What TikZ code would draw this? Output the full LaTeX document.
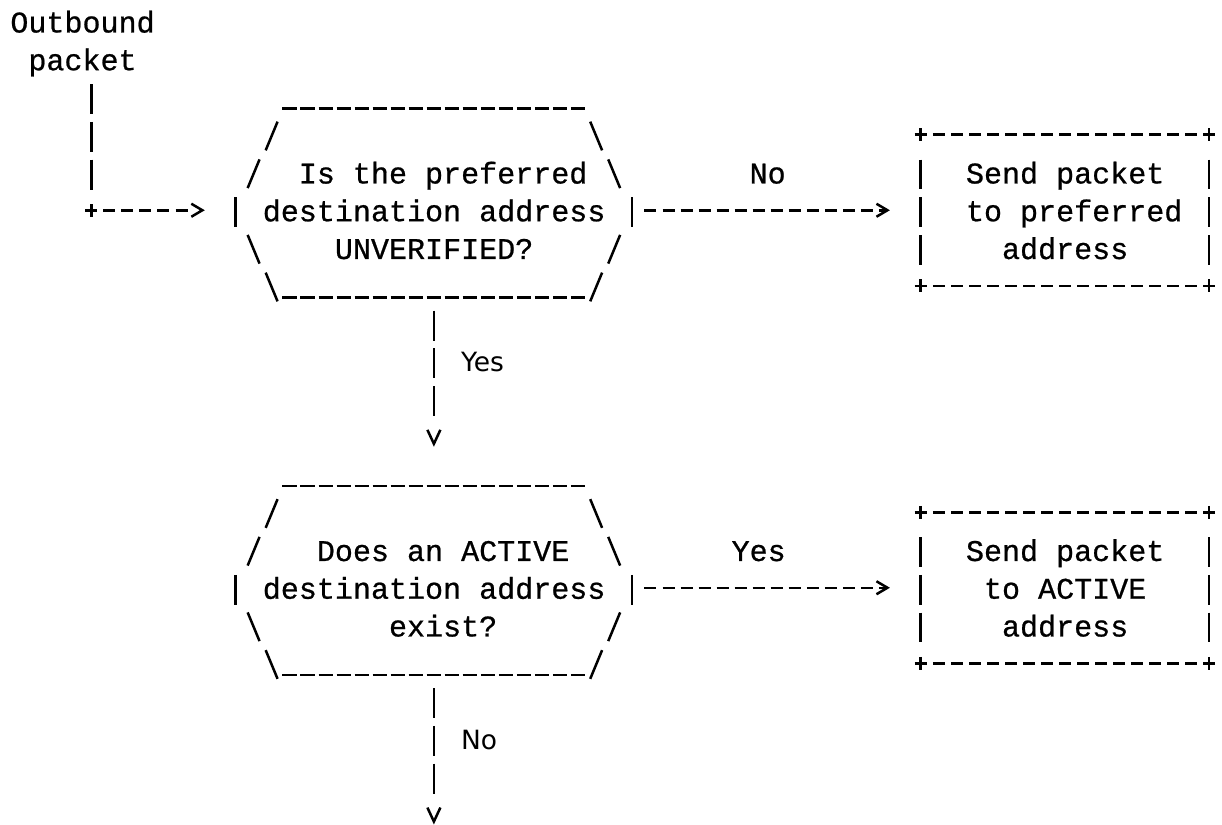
\documentclass[tikz,border=0pt]{standalone}
\usepackage{fontspec}
\newfontfamily\monofnt[FakeBold=0.7]{Liberation Mono}
\newfontfamily\sansfnt{DejaVu Sans}
\usetikzlibrary{arrows.meta}
% glyph-like strokes on the character grid (1 unit x = one column, 1 unit y = one row)
\newcommand\gfs[2]{\draw[glyph] ({#1-0.33},{#2+0.36}) -- ({#1+0.33},{#2-0.40});}
\newcommand\gbs[2]{\draw[glyph] ({#1-0.33},{#2-0.40}) -- ({#1+0.33},{#2+0.36});}
\newcommand\gvb[2]{\draw[glyph] (#1,{#2-0.397}) -- (#1,{#2+0.397});}
\newcommand\hexgl[1]{%
  \foreach \c in {15,...,31} {
    \draw[glyph] ({\c-0.40},{#1+0.252}) -- ({\c+0.40},{#1+0.252});
    \draw[glyph] ({\c-0.40},{#1+5.252}) -- ({\c+0.40},{#1+5.252});
  }
  \gfs{14}{#1+1}\gbs{32}{#1+1}
  \gfs{13}{#1+2}\gbs{33}{#1+2}
  \gvb{12}{#1+3}\gvb{34}{#1+3}
  \gbs{13}{#1+4}\gfs{33}{#1+4}
  \gbs{14}{#1+5}\gfs{32}{#1+5}
}
\newcommand\boxgl[1]{%
  \foreach \c in {51,...,65} {
    \draw[glyph] ({\c-0.32},{#1-0.053}) -- ({\c+0.32},{#1-0.053});
    \draw[glyph] ({\c-0.32},{#1+4-0.053}) -- ({\c+0.32},{#1+4-0.053});
  }
  \foreach \r in {1,2,3} {\gvb{50}{#1+\r}\gvb{66}{#1+\r}}
  \foreach \c in {50,66} {
    \foreach \rr in {0,4} {
      \draw[glyph] ({\c-0.333},{#1+\rr-0.053}) -- ({\c+0.333},{#1+\rr-0.053});
      \draw[glyph] (\c,{#1+\rr-0.053-0.172}) -- (\c,{#1+\rr-0.053+0.172});
    }
  }
}
\begin{document}
\begin{tikzpicture}[x=18.03pt, y=-37.75pt,
  txt/.style={font={\monofnt\fontsize{30.05pt}{37.75pt}\selectfont}, inner sep=0pt, anchor=base west},
  lbl/.style={font={\sansfnt\fontsize{26.5pt}{32pt}\selectfont}, inner sep=0pt, anchor=base west},
  glyph/.style={line width=2.5pt},
  area/.style={draw=none, inner sep=0pt},
  decision/.style={area, minimum width=396.66pt, minimum height=200.53pt},
  actbox/.style={area, minimum width=288.48pt, minimum height=151pt},
  startconn/.style={glyph, dash pattern=on 30pt off 7.75pt on 30pt off 7.75pt on 30pt off 14.75pt on 12pt off 6.05pt on 12pt off 6.03pt on 12pt off 6.03pt on 12pt off 6.03pt on 12pt off 6.03pt on 12pt off 60pt,
    -{Straight Barb[length=11pt,width=13pt]}, shorten >=30.56pt},
  horiz/.style={glyph, dash pattern=on 12pt off 6.03pt,
    -{Straight Barb[length=11pt,width=13pt]}, shorten <=12.05pt, shorten >=30.6pt},
  vert/.style={glyph, dash pattern=on 30pt off 7.75pt on 30pt off 7.75pt on 30pt off 60pt,
    -{Straight Barb[length=14pt,width=13pt]}}
]
\fill[white] (-1.0649,0.37748) rectangle (66.711,22.2053);
\useasboundingbox (-1.0649,0.37748) rectangle (66.711,22.2053);

% shape areas (invisible, used as connector ends)
\node[decision] (d1) at (23,5.947) {};
\node[decision] (d2) at (23,15.947) {};
\node[actbox] (b1) at (58,5.947) {};
\node[actbox] (b2) at (58,15.947) {};
\coordinate (start) at (4,2.603);
\coordinate (corner) at (4,5.947);
\coordinate (end) at (23,22.219);

% outlines
\hexgl{3}
\hexgl{13}
\boxgl{4}
\boxgl{14}

% texts
\node[txt] (tout) at (-0.5,1.238) {Outbound};
\node[txt] (tpkt) at (0.5,2.238) {packet};
\node[txt] (d1a) at (15.5,5.238) {Is the preferred};
\node[txt] (d1b) at (13.5,6.238) {destination address};
\node[txt] (d1c) at (17.5,7.238) {UNVERIFIED?};
\node[txt] (l1) at (40.5,5.238) {No};
\node[txt] (b1a) at (52.5,5.238) {Send packet};
\node[txt] (b1b) at (52.5,6.238) {to preferred};
\node[txt] (b1c) at (54.5,7.238) {address};
\node[lbl] (l2) at (24.5,10.225) {Yes};
\node[txt] (d2a) at (16.5,15.238) {Does an ACTIVE};
\node[txt] (d2b) at (13.5,16.238) {destination address};
\node[txt] (d2c) at (20.5,17.238) {exist?};
\node[txt] (l3) at (39.5,15.238) {Yes};
\node[txt] (b2a) at (52.5,15.238) {Send packet};
\node[txt] (b2b) at (53.5,16.238) {to ACTIVE};
\node[txt] (b2c) at (54.5,17.238) {address};
\node[lbl] (l4) at (24.5,20.225) {No};

% connectors
\draw[startconn] (start) |- (d1);
\draw[glyph] ([xshift=-6pt]corner) -- (corner) -- ([yshift=-6.5pt]corner);
\draw[horiz] (d1) -- (b1);
\draw[vert, shorten >=40.5pt] (d1) -- (d2);
\draw[horiz] (d2) -- (b2);
\draw[vert] (d2) -- (end);
\end{tikzpicture}
\end{document}
